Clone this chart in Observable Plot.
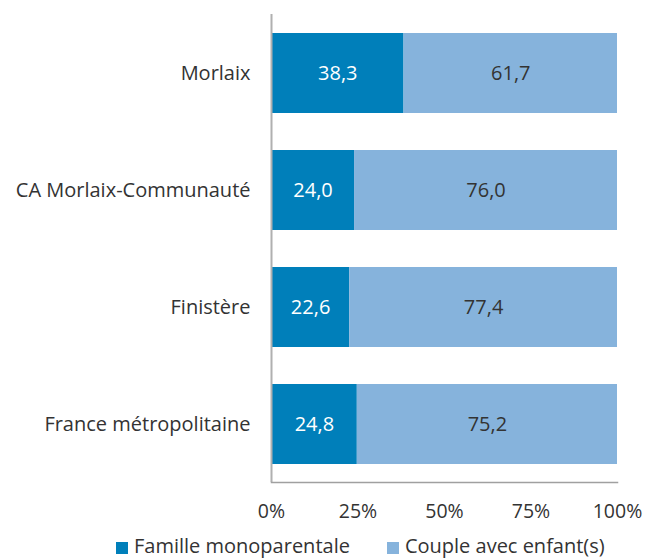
<!DOCTYPE html>
<html>
<head>
<meta charset="utf-8">
<script src="https://cdn.jsdelivr.net/npm/d3@7"></script>
<script src="https://cdn.jsdelivr.net/npm/@observablehq/plot@0.6"></script>
<style>
  body { margin: 0; background: #fff; font-family: "Open Sans", sans-serif; }
  #chart { width: 646px; }
  .legend { display: flex; gap: 37px; padding-left: 116px; margin-top: 6px; font-size: 20px; color: #333; line-height: 24px; }
  .legend span.sw { display: inline-block; width: 12px; height: 12px; margin-right: 6px; vertical-align: -1px; }
</style>
</head>
<body>
<div id="chart"></div>
<script>
const territories = ["Morlaix", "CA Morlaix-Communauté", "Finistère", "France métropolitaine"];
const series = ["Famille monoparentale", "Couple avec enfant(s)"];
const monoparentale = [38.3, 24.0, 22.6, 24.8];
const couple = [61.7, 76.0, 77.4, 75.2];
const colors = ["#007fba", "#86b3dc"];
const textColors = ["#ffffff", "#333333"];
const xTicks = [0, 0.25, 0.5, 0.75, 1];

const data = [];
territories.forEach((t, i) => {
  data.push({territory: t, serie: series[0], value: monoparentale[i]});
  data.push({territory: t, serie: series[1], value: couple[i]});
});
const fr = v => v.toFixed(1).replace(".", ",");

const plot = Plot.plot({
  width: 646,
  height: 528,
  marginTop: 14,
  marginBottom: 46,
  marginLeft: 271,
  marginRight: 29,
  style: {fontFamily: "Open Sans, sans-serif", fontSize: "20px", color: "#333"},
  x: {domain: [0, 100], axis: null},
  y: {domain: territories, paddingInner: 0.32, paddingOuter: 0.16, align: 0.5, label: null},
  color: {domain: series, range: colors},
  marks: [
    Plot.barX(data, Plot.stackX({x: "value", y: "territory", fill: "serie", order: series})),
    Plot.text(data, Plot.stackX({x: "value", y: "territory", z: "serie", order: series, text: d => fr(d.value),
      fill: d => d.serie === series[0] ? textColors[0] : textColors[1], fontSize: 20})),
    Plot.axisY({tickSize: 0, tickPadding: 21, fontSize: 20, label: null}),
    Plot.axisX(xTicks.map(d => d * 100), {tickSize: 0, tickPadding: 22, fontSize: 19.5, tickFormat: d => d + "%", label: null}),
    Plot.ruleX([0], {stroke: "#b0b0b0", strokeWidth: 2}),
    Plot.frame({anchor: "bottom", stroke: "#a0a0a0", strokeWidth: 1.5})
  ]
});
document.getElementById("chart").appendChild(plot);

const legend = document.createElement("div");
legend.className = "legend";
series.forEach((s, i) => {
  const item = document.createElement("div");
  item.innerHTML = `<span class="sw" style="background:${colors[i]}"></span>${s}`;
  legend.appendChild(item);
});
document.getElementById("chart").appendChild(legend);
</script>
</body>
</html>
